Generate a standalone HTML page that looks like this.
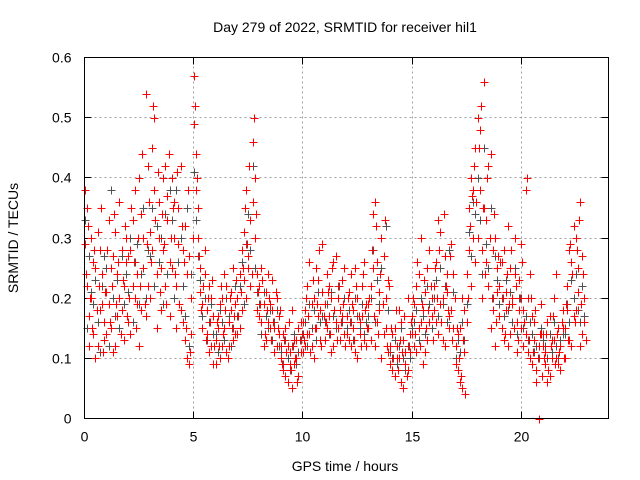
<!DOCTYPE html>
<html><head><meta charset="utf-8"><style>
body{margin:0;background:#fff}
svg{display:block;font-family:"Liberation Sans",sans-serif}
</style></head><body>
<svg id="chart" width="640" height="480" viewBox="0 0 640 480">
<rect width="640" height="480" fill="#fff"/>
<text x="345" y="32" font-size="14" text-anchor="middle">Day 279 of 2022, SRMTID for receiver hil1</text>
<text transform="translate(18,238) rotate(-90)" font-size="14" text-anchor="middle">SRMTID / TECUs</text>
<text x="345" y="471" font-size="14" text-anchor="middle">GPS time / hours</text>
<g id="grid"></g>
<g id="ticks"></g>
<g id="gray"></g>
<g id="red"></g>
<rect x="84.5" y="57.5" width="524" height="361" fill="none" stroke="#000" stroke-width="1"/>
</svg>
<script>
const xTicks=[0,5,10,15,20];
const yTicks=[0,0.1,0.2,0.3,0.4,0.5,0.6];
const yTickLabels=["0","0.1","0.2","0.3","0.4","0.5","0.6"];
const times=[
0,.1,.2,.3,.4,.5,.6,.7,.8,.9,
1,1.1,1.2,1.3,1.4,1.5,1.6,1.7,1.8,1.9,
2,2.1,2.2,2.3,2.4,2.5,2.6,2.7,2.8,2.9,
3,3.1,3.2,3.3,3.4,3.5,3.6,3.7,3.8,3.9,
4,4.1,4.2,4.3,4.4,4.5,4.6,4.7,4.8,4.9,
5,5.1,5.2,5.3,5.4,5.5,5.6,5.7,5.8,5.9,
6,6.1,6.2,6.3,6.4,6.5,6.6,6.7,6.8,6.9,
7,7.1,7.2,7.3,7.4,7.5,7.6,7.7,7.8,7.9,
8,8.1,8.2,8.3,8.4,8.5,8.6,8.7,8.8,8.9,
9,9.1,9.2,9.3,9.4,9.5,9.6,9.7,9.8,9.9,
10,10.1,10.2,10.3,10.4,10.5,10.6,10.7,10.8,10.9,
11,11.1,11.2,11.3,11.4,11.5,11.6,11.7,11.8,11.9,
12,12.1,12.2,12.3,12.4,12.5,12.6,12.7,12.8,12.9,
13,13.1,13.2,13.3,13.4,13.5,13.6,13.7,13.8,13.9,
14,14.1,14.2,14.3,14.4,14.5,14.6,14.7,14.8,14.9,
15,15.1,15.2,15.3,15.4,15.5,15.6,15.7,15.8,15.9,
16,16.1,16.2,16.3,16.4,16.5,16.6,16.7,16.8,16.9,
17,17.1,17.2,17.3,17.4,17.5,17.6,17.7,17.8,17.9,
18,18.1,18.2,18.3,18.4,18.5,18.6,18.7,18.8,18.9,
19,19.1,19.2,19.3,19.4,19.5,19.6,19.7,19.8,19.9,
20,20.1,20.2,20.3,20.4,20.5,20.6,20.7,20.8,20.9,
21,21.1,21.2,21.3,21.4,21.5,21.6,21.7,21.8,21.9,
22,22.1,22.2,22.3,22.4,22.5,22.6,22.7,22.8,22.9];
const red1=[
.38,.22,.17,.30,.14,.25,.12,.28,.19,.16,
.21,.33,.15,.27,.12,.24,.36,.18,.22,.30,
.16,.28,.22,.38,.19,.12,.34,.25,.17,.42,
.31,.45,.50,.24,.36,.18,.28,.42,.33,.26,
.40,.30,.22,.35,.18,.28,.13,.24,.09,.20,
.57,.44,.35,.25,.19,.28,.14,.22,.12,.17,
.13,.17,.10,.20,.15,.22,.12,.18,.25,.14,
.20,.15,.28,.23,.38,.27,.33,.46,.40,.18,
.22,.16,.19,.13,.24,.15,.18,.11,.20,.14,
.12,.08,.15,.06,.11,.18,.09,.13,.07,.16,
.16,.12,.22,.14,.19,.10,.25,.17,.13,.21,
.13,.24,.17,.20,.12,.27,.15,.18,.23,.14,
.14,.21,.12,.18,.25,.10,.16,.22,.13,.19,
.15,.22,.34,.12,.26,.18,.30,.14,.20,.11,
.12,.08,.15,.10,.18,.06,.13,.09,.20,.11,
.14,.19,.11,.24,.16,.09,.21,.13,.28,.17,
.18,.26,.14,.31,.20,.12,.24,.17,.29,.15,
.12,.08,.15,.05,.18,.24,.35,.40,.30,.45,
.50,.38,.28,.56,.33,.22,.44,.18,.30,.25,
.22,.15,.28,.18,.12,.25,.20,.30,.16,.23,
.15,.12,.38,.20,.10,.17,.13,.08,.00,.14,
.12,.09,.16,.07,.13,.20,.10,.15,.08,.18,
.15,.22,.28,.12,.32,.18,.25,.36,.14,.20];
const red2=[
.29,.35,.12,.20,.26,.10,.31,.18,.24,.13,
.14,.19,.25,.11,.31,.17,.20,.28,.13,.26,
.27,.14,.33,.20,.24,.40,.18,.30,.54,.22,
.20,.28,.38,.15,.30,.25,.40,.22,.37,.17,
.25,.36,.15,.29,.42,.16,.32,.10,.27,.14,
.49,.38,.30,.21,.15,.24,.18,.11,.20,.09,
.09,.15,.19,.12,.24,.11,.16,.21,.13,.19,
.14,.24,.18,.31,.20,.25,.22,.36,.30,.24,
.17,.25,.12,.21,.16,.19,.23,.15,.12,.17,
.10,.14,.07,.12,.09,.05,.13,.10,.15,.11,
.11,.18,.14,.26,.12,.20,.15,.23,.18,.29,
.19,.15,.22,.11,.26,.16,.20,.13,.17,.25,
.17,.13,.24,.15,.11,.20,.14,.17,.26,.12,
.19,.13,.25,.36,.16,.21,.10,.27,.15,.23,
.09,.14,.07,.12,.10,.16,.05,.11,.08,.14,
.17,.12,.22,.15,.30,.18,.11,.25,.16,.20,
.22,.16,.33,.19,.13,.27,.21,.15,.18,.24,
.09,.14,.06,.20,.11,.16,.28,.22,.38,.26,
.30,.48,.20,.35,.26,.42,.15,.28,.12,.21,
.17,.26,.13,.21,.32,.14,.19,.24,.11,.18,
.29,.18,.14,.11,.24,.09,.16,.06,.12,.19,
.14,.11,.06,.17,.10,.13,.24,.09,.12,.15,
.10,.18,.13,.26,.17,.30,.21,.12,.27,.16];
const red3=[
.24,.32,.20,.15,.28,.18,.22,.35,.11,.21,
.28,.16,.22,.34,.19,.26,.14,.23,.32,.17,
.20,.35,.26,.15,.30,.22,.44,.19,.29,.36,
.26,.52,.33,.41,.21,.34,.29,.19,.44,.30,
.35,.24,.41,.19,.32,.26,.15,.38,.11,.30,
.52,.40,.27,.18,.22,.13,.20,.16,.23,.12,
.16,.12,.22,.14,.18,.10,.20,.15,.17,.23,
.17,.21,.25,.35,.29,.42,.24,.50,.34,.21,
.19,.23,.14,.18,.20,.13,.16,.21,.15,.18,
.09,.13,.11,.16,.08,.12,.10,.06,.13,.14,
.13,.20,.17,.11,.23,.15,.19,.28,.12,.17,
.16,.21,.14,.25,.18,.13,.22,.16,.19,.12,
.20,.16,.19,.13,.22,.17,.12,.24,.18,.15,
.20,.28,.17,.32,.14,.24,.19,.33,.12,.22,
.15,.10,.18,.08,.13,.11,.17,.07,.12,.16,
.20,.14,.26,.12,.19,.23,.15,.18,.22,.13,
.25,.20,.28,.16,.34,.22,.18,.27,.13,.20,
.15,.10,.07,.13,.04,.20,.32,.37,.42,.36,
.45,.52,.35,.24,.40,.30,.20,.34,.16,.27,
.26,.20,.14,.24,.19,.28,.15,.22,.13,.20,
.26,.16,.40,.13,.20,.11,.18,.10,.14,.07,
.10,.14,.08,.12,.17,.09,.14,.11,.16,.10,
.19,.13,.29,.24,.16,.28,.33,.19,.24,.13];
const grayVals=[
.33,.15,.27,.21,.19,.23,.16,.11,.22,.27,
.25,.12,.38,.20,.17,.23,.15,.27,.19,.24,
.21,.30,.16,.26,.29,.19,.24,.35,.20,.28,
.27,.35,.22,.32,.26,.30,.19,.34,.24,.38,
.33,.20,.38,.26,.30,.22,.17,.35,.12,.24,
.41,.33,.27,.23,.17,.20,.13,.16,.19,.14,
.14,.11,.18,.16,.13,.20,.17,.12,.15,.22,
.17,.22,.26,.19,.29,.34,.28,.42,.25,.21,
.19,.14,.21,.17,.15,.18,.13,.16,.18,.12,
.11,.09,.13,.10,.08,.12,.14,.09,.11,.13,
.14,.16,.12,.19,.15,.18,.13,.21,.16,.17,
.16,.19,.14,.21,.17,.15,.22,.18,.16,.20,
.15,.18,.16,.13,.20,.17,.15,.19,.14,.16,
.17,.20,.28,.16,.23,.19,.25,.14,.32,.18,
.11,.10,.13,.09,.12,.15,.10,.08,.12,.10,
.15,.16,.18,.13,.20,.17,.14,.22,.19,.15,
.20,.23,.17,.25,.19,.22,.16,.28,.18,.21,
.10,.13,.11,.16,.13,.19,.31,.27,.36,.34,
.40,.33,.24,.45,.29,.25,.35,.20,.27,.23,
.19,.20,.17,.23,.18,.21,.16,.25,.14,.20,
.20,.15,.17,.13,.16,.14,.11,.12,.10,.15,
.13,.12,.10,.14,.11,.16,.12,.10,.13,.14,
.14,.19,.16,.23,.20,.24,.18,.16,.22,.17];

const NS="http://www.w3.org/2000/svg";
const X0=84.5,X1=608.5,Y0=418.5,Y1=57.5,XMAX=24,YMAX=0.6;
function xs(t){return X0+(X1-X0)*t/XMAX;}
function ys(v){return Y0-(Y0-Y1)*v/YMAX;}
const grid=document.getElementById('grid'),ticks=document.getElementById('ticks');
function mk(tag,attrs,parent){const e=document.createElementNS(NS,tag);for(const k in attrs)e.setAttribute(k,attrs[k]);parent.appendChild(e);return e;}
yTicks.forEach((v,i)=>{
  const y=Math.round(ys(v)-0.5)+0.5;
  if(i>0&&i<yTicks.length-1){const g=mk('line',{x1:X0,x2:X1,y1:y,y2:y,stroke:'#a0a0a0','stroke-dasharray':'2,3'},grid);
  
  }
  const a=mk('path',{d:`M${X0} ${y}h7M${X1} ${y}h-7`,stroke:'#000'},ticks);
  
  
  const t=mk('text',{x:X0-13,y:y+5,'font-size':14,'text-anchor':'end'},ticks);
  t.textContent=yTickLabels[i];
  
  
});
xTicks.forEach((v,i)=>{
  const x=Math.round(xs(v)-0.5)+0.5;
  if(i>0){const g=mk('line',{x1:x,x2:x,y1:Y0,y2:Y1,stroke:'#a0a0a0','stroke-dasharray':'2,3'},grid);
  
  }
  const a=mk('path',{d:`M${x} ${Y0}v-7M${x} ${Y1}v7`,stroke:'#000'},ticks);
  
  
  const t=mk('text',{x:x,y:Y0+23,'font-size':14,'text-anchor':'middle'},ticks);
  t.textContent=String(v);
  
  
});
function plus(parent,vals,color,name,dt){
  let d='';
  vals.forEach((v,i)=>{
    const x=Math.round(xs(times[i]+dt))+0.5,y=Math.round(ys(v))+0.5;
    d+=`M${x-4} ${y}h8M${x} ${y-4}v8`;
  });
  const p=mk('path',{d:d,stroke:color,'stroke-width':1,fill:'none'},parent);
  
  
}
plus(document.getElementById('gray'),grayVals,'#505050','gray-markers',0);
plus(document.getElementById('red'),red1,'#ff0000','red-markers-a',0);
plus(document.getElementById('red'),red2,'#ff0000','red-markers-b',0);
plus(document.getElementById('red'),red3,'#ff0000','red-markers-c',0.05);
</script>
</body></html>
